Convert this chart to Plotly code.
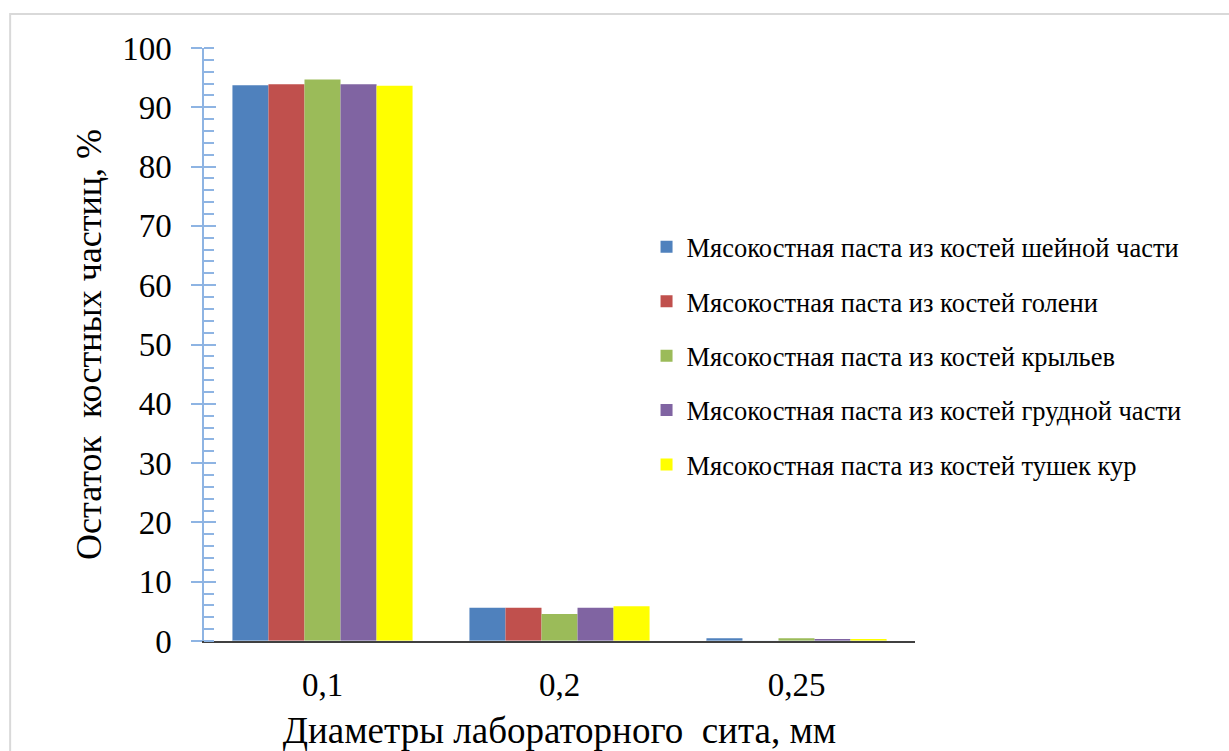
import plotly.graph_objects as go

# Sieve diameters (categories) and residue of bone particles, %
sieves = ["0,1", "0,2", "0,25"]
series_names = [
    "Мясокостная паста из костей шейной части",
    "Мясокостная паста из костей голени",
    "Мясокостная паста из костей крыльев",
    "Мясокостная паста из костей грудной части",
    "Мясокостная паста из костей тушек кур",
]
neck = [93.7, 5.6, 0.45]
shin = [93.9, 5.6, 0.0]
wings = [94.7, 4.55, 0.45]
breast = [93.9, 5.6, 0.25]
carcass = [93.65, 5.85, 0.2]
series_values = [neck, shin, wings, breast, carcass]
colors = ["#4F81BD", "#C0504D", "#9BBB59", "#8064A2", "#FFFF00"]

y_ticks = list(range(0, 101, 10))

FONT = "Liberation Serif, Times New Roman, serif"
AXIS_BLUE = "#8EB4E3"

fig = go.Figure()
for i, (name, vals, col) in enumerate(zip(series_names, series_values, colors)):
    fig.add_trace(go.Bar(
        x=sieves, y=vals, name=name,
        marker=dict(color=col, line=dict(width=0)),
        legendgroup=f"g{i}",
    ))

# invisible trace on the overlay axis so its inside major ticks are drawn
fig.add_trace(go.Bar(x=sieves, y=[0, 0, 0], yaxis="y2", showlegend=False,
                     hoverinfo="skip", marker=dict(color="rgba(0,0,0,0)")))

fig.update_layout(
    width=1229, height=751,
    margin=dict(l=204, r=10, t=48, b=110, autoexpand=False),
    paper_bgcolor="white", plot_bgcolor="white",
    barmode="group", bargap=0.24, bargroupgap=0,
    font=dict(family=FONT, color="black"),
    showlegend=True,
    legend=dict(
        x=0.436, xanchor="left", y=0.4806, yanchor="middle",
        font=dict(family=FONT, size=26.5, color="black"),
        tracegroupgap=17, itemwidth=30,
        bgcolor="rgba(0,0,0,0)",
    ),
    xaxis=dict(
        type="category", domain=[0, 0.7005],
        showline=True, linecolor="#404040", linewidth=1.5,
        ticks="", showgrid=False,
        tickfont=dict(family=FONT, size=33),
        ticklabelstandoff=14,
        title=dict(text="Диаметры лабораторного\u00a0 сита, мм",
                   font=dict(family=FONT, size=37), standoff=15),
    ),
    yaxis=dict(
        range=[0, 100], tickvals=y_ticks,
        showline=True, linecolor=AXIS_BLUE, linewidth=1.5,
        ticks="outside", ticklen=11, tickcolor=AXIS_BLUE, tickwidth=1.5,
        minor=dict(dtick=2, ticks="inside", ticklen=10,
                   tickcolor=AXIS_BLUE, tickwidth=1.5),
        showgrid=False, zeroline=False,
        tickfont=dict(family=FONT, size=33),
        ticklabelstandoff=13,
        title=dict(text="Остаток\u00a0 костных частиц, %",
                   font=dict(family=FONT, size=36), standoff=10),
    ),
    yaxis2=dict(
        overlaying="y", range=[0, 100], tickvals=y_ticks,
        showticklabels=False, ticks="inside", ticklen=12,
        tickcolor=AXIS_BLUE, tickwidth=1.5,
        showgrid=False, zeroline=False, showline=False,
    ),
    shapes=[dict(
        type="rect", xref="paper", yref="paper",
        x0=-0.191, x1=1.05, y0=-0.3, y1=1.0573,
        line=dict(color="#D9D9D9", width=2), fillcolor="rgba(0,0,0,0)",
        layer="below",
    )],
)

fig.write_html("out.html")
